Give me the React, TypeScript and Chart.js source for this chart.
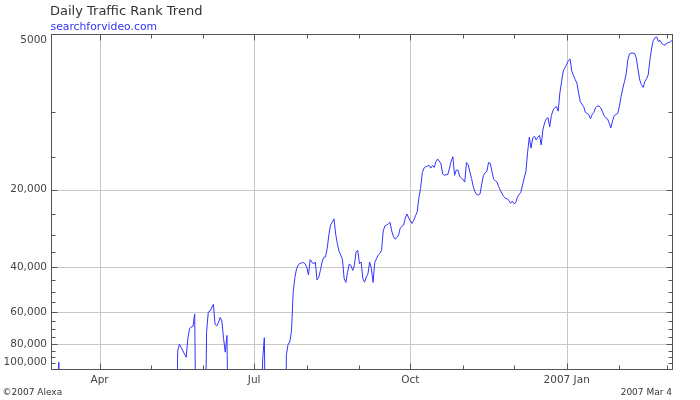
import React, { useEffect, useRef } from "react";
import { Chart, registerables } from "chart.js";

Chart.register(...registerables);

// Day index counted from 2006 Mar 4 (day 0) to 2007 Mar 4 (day 365)
const days = [
  0, 3, 4, 5, 73, 74, 75, 79, 80, 81, 83, 84, 85,
  90, 91, 92, 93, 95, 96, 97, 98, 99, 100, 101, 102, 103, 104,
  123, 124, 125, 126,
  137, 138, 139, 140, 141, 142, 143, 144, 145, 146, 147, 148, 149, 150,
  151, 152, 153, 154, 155, 156, 157, 158, 159, 160, 161, 162, 163, 164, 165,
  166, 167, 168, 169, 170, 171, 172, 173, 174, 175, 176, 177, 178, 179, 180,
  181, 182, 183, 184, 185, 186, 187, 188, 189, 190, 191, 192, 193, 194, 195,
  196, 197, 198, 199, 200, 201, 202, 203, 204, 205, 206, 207, 208, 209, 210,
  211, 212, 213, 214, 215, 216, 217, 218, 219, 220, 221, 222, 223, 224, 225,
  226, 227, 228, 229, 230, 231, 232, 233, 234, 235, 236, 237, 238, 239, 240,
  241, 242, 243, 244, 245, 246, 247, 248, 249, 250, 251, 252, 253, 254, 255,
  256, 257, 258, 259, 260, 261, 262, 263, 264, 265, 266, 267, 268, 269, 270,
  271, 272, 273, 274, 275, 276, 277, 278, 279, 280, 281, 282, 283, 284, 285,
  286, 287, 288, 289, 290, 291, 292, 293, 294, 295, 296, 297, 298, 299, 300,
  301, 302, 303, 304, 305, 306, 307, 308, 309, 310, 311, 312, 313, 314, 315,
  316, 317, 318, 319, 320, 321, 322, 323, 324, 325, 326, 327, 328, 329, 330,
  331, 332, 333, 334, 335, 336, 337, 338, 339, 340, 341, 342, 343, 344, 345,
  346, 347, 348, 349, 350, 351, 352, 353, 354, 355, 356, 357, 358, 359, 360,
  361, 362, 363, 364, 365,
];

const ranks = [
  250000, 250000, 94000, 250000, 250000, 85000, 80000, 90000, 76000, 69500, 68000, 61000, 250000,
  250000, 72000, 60000, 59500, 56000, 67000, 68000, 66000, 63000, 65000, 76000, 86000, 74000, 250000,
  250000, 92000, 75500, 250000,
  250000, 88000, 80000, 78500, 71000, 50000, 44000, 40600, 39300, 38800, 38600, 38500, 38900, 40200,
  43000, 37500, 38300, 39000, 38300, 45000, 44000, 41300, 38300, 36700, 36600, 34000, 30000, 27500, 26800,
  26000, 29800, 32500, 34800, 36000, 37500, 44500, 46000, 42000, 39000, 39500, 41300, 39500, 35000, 34500,
  38900, 38300, 44500, 45900, 43800, 42600, 38300, 40500, 46000, 38500, 37200, 36000, 35500, 34500, 29000,
  27700, 27500, 27200, 26800, 29000, 30500, 31200, 30800, 30100, 28300, 27800, 27500, 25800, 24900, 25800,
  26500, 27100, 26300, 25300, 24400, 21500, 19800, 17200, 16500, 16300, 16200, 16100, 16500, 16100, 16400,
  15600, 15200, 15500, 15900, 17400, 17600, 17500, 17500, 16500, 15500, 14900, 17600, 16800, 16800, 17800,
  18000, 18300, 18700, 15700, 16000, 17100, 18100, 19500, 20400, 20900, 21000, 20800, 19000, 17600, 17200,
  17000, 15700, 15800, 17000, 18200, 18500, 18700, 19500, 20200, 20800, 21300, 21700, 21700, 22100, 22600,
  22200, 22700, 22500, 21400, 20900, 20500, 19200, 18000, 17000, 14300, 12500, 13800, 12600, 12400, 12800,
  12500, 12300, 13400, 11700, 11000, 10600, 10500, 11400, 10300, 9800, 9600, 9500, 9900, 8400, 7600,
  6900, 6700, 6500, 6300, 6200, 6900, 7200, 7450, 7700, 8400, 9100, 9300, 9500, 10000, 10100,
  10200, 10600, 10200, 10000, 9600, 9450, 9450, 9600, 9900, 10300, 10500, 10600, 11000, 11500, 10800,
  10300, 10200, 10100, 9500, 8700, 8100, 7600, 7100, 6250, 5920, 5880, 5880, 5900, 6150, 6800,
  7480, 7800, 8000, 7600, 7400, 7150, 6250, 5620, 5250, 5120, 5090, 5300, 5250, 5400, 5450,
  5480, 5370, 5350, 5320, 5250,
];

const monthTickDays = [28, 58, 89, 119, 150, 181, 211, 242, 272, 303, 334, 362];
const quarterDays = [28, 119, 211, 303];
const quarterLabels = ["Apr", "Jul", "Oct", "2007 Jan"];

const yLabelValues = [5000, 20000, 40000, 60000, 80000, 100000];
const yLabelTexts = ["5000", "20,000", "40,000", "60,000", "80,000", "100,000"];
const yGridValues = [20000, 40000, 60000, 80000];
const yMinorValues = [
  10000, 15000, 25000, 30000, 35000, 45000, 50000, 55000,
  65000, 70000, 75000, 85000, 90000, 95000,
];

const titleText = "Daily Traffic Rank Trend";
const subtitleText = "searchforvideo.com";
const footerLeftText = "\u00a92007 Alexa";
const footerRightText = "2007 Mar 4";

const FONT = "'DejaVu Sans', Verdana, sans-serif";

const alexaPlugin = {
  id: "alexaFrame",
  beforeDatasetsDraw(chart: any) {
    const { ctx, chartArea } = chart;
    const xs = chart.scales.x;
    const ys = chart.scales.y;
    ctx.save();
    ctx.strokeStyle = "#c8c8c8";
    ctx.lineWidth = 1;
    ctx.beginPath();
    for (const d of quarterDays) {
      const px = Math.round(xs.getPixelForValue(d)) + 0.5;
      ctx.moveTo(px, chartArea.top);
      ctx.lineTo(px, chartArea.bottom);
    }
    for (const v of yGridValues) {
      const py = Math.round(ys.getPixelForValue(v)) + 0.5;
      ctx.moveTo(chartArea.left, py);
      ctx.lineTo(chartArea.right, py);
    }
    ctx.stroke();
    ctx.restore();
  },
  afterDatasetsDraw(chart: any) {
    const { ctx, chartArea } = chart;
    const xs = chart.scales.x;
    const ys = chart.scales.y;
    const L = chartArea.left - 0.5;
    const R = chartArea.right + 0.5;
    const T = chartArea.top - 0.5;
    const B = chartArea.bottom + 0.5;
    ctx.save();
    // frame
    ctx.strokeStyle = "#555555";
    ctx.lineWidth = 1;
    ctx.strokeRect(L, T, R - L, B - T);
    // ticks (inward)
    ctx.beginPath();
    for (const d of monthTickDays) {
      const px = Math.round(xs.getPixelForValue(d)) + 0.5;
      const len = quarterDays.includes(d) ? 6 : 4;
      ctx.moveTo(px, B);
      ctx.lineTo(px, B - len);
      ctx.moveTo(px, T);
      ctx.lineTo(px, T + len);
    }
    const yTicks = [...yMinorValues, ...yGridValues];
    for (const v of yTicks) {
      const py = Math.round(ys.getPixelForValue(v)) + 0.5;
      const len = yGridValues.includes(v) ? 6 : 4;
      ctx.moveTo(L, py);
      ctx.lineTo(L + len, py);
      ctx.moveTo(R, py);
      ctx.lineTo(R - len, py);
    }
    ctx.stroke();

    // y labels
    ctx.fillStyle = "#444444";
    ctx.font = `10.5px ${FONT}`;
    ctx.textAlign = "right";
    ctx.textBaseline = "middle";
    yLabelValues.forEach((v, i) => {
      let py = ys.getPixelForValue(v);
      py = Math.min(Math.max(py, chartArea.top + 5.5), chartArea.bottom - 6.5);
      ctx.fillText(yLabelTexts[i], chartArea.left - 5, py);
    });

    // x labels
    ctx.textAlign = "center";
    ctx.textBaseline = "alphabetic";
    quarterDays.forEach((d, i) => {
      const px = xs.getPixelForValue(d);
      ctx.fillText(quarterLabels[i], px, chartArea.bottom + 14);
    });

    // title & subtitle
    ctx.textAlign = "left";
    ctx.fillStyle = "#333333";
    ctx.font = `13px ${FONT}`;
    ctx.fillText(titleText, 50, 14.5);
    ctx.fillStyle = "#3333ee";
    ctx.font = `10.8px ${FONT}`;
    ctx.fillText(subtitleText, 50.5, 29.5);

    // footers
    ctx.fillStyle = "#333333";
    ctx.font = `9px ${FONT}`;
    ctx.fillText(footerLeftText, 2.5, 394.5);
    ctx.textAlign = "right";
    ctx.fillText(footerRightText, chartArea.right, 394.5);
    ctx.restore();
  },
};

export default function App() {
  const canvasRef = useRef<HTMLCanvasElement | null>(null);

  useEffect(() => {
    document.body.style.margin = "0";
    const canvas = canvasRef.current;
    if (!canvas) return;
    const chart = new Chart(canvas, {
      type: "line",
      data: {
        datasets: [
          {
            label: "Traffic Rank",
            data: days.map((d, i) => ({ x: d, y: ranks[i] })),
            borderColor: "#3333ff",
            borderWidth: 1,
            pointRadius: 0,
            tension: 0,
            fill: false,
            clip: 0,
          } as any,
        ],
      },
      options: {
        responsive: false,
        animation: false,
        devicePixelRatio: 1,
        layout: { padding: { left: 52, right: 28, top: 35, bottom: 31 } },
        plugins: {
          legend: { display: false },
          tooltip: { enabled: false },
          title: { display: false },
        },
        scales: {
          x: { type: "linear", min: 0, max: 365, display: false },
          y: {
            type: "logarithmic",
            min: 5000,
            max: 100000,
            reverse: true,
            display: false,
          },
        },
      },
      plugins: [alexaPlugin],
    });
    return () => chart.destroy();
  }, []);

  return (
    <div style={{ width: 700, height: 400, background: "#ffffff" }}>
      <canvas ref={canvasRef} width={700} height={400} style={{ display: "block" }} />
    </div>
  );
}
